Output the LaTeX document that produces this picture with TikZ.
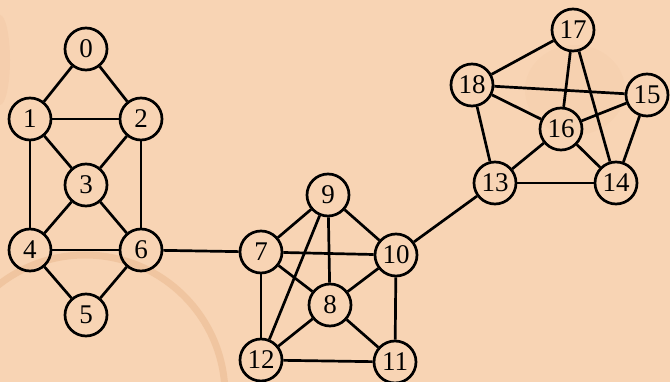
\documentclass[tikz,border=0pt]{standalone}
\usepackage{fontspec}
\setmainfont{Liberation Serif}
\begin{document}
\begin{tikzpicture}[x=1pt,y=-1pt,
  vtx/.style={circle,draw=black,line width=2.7pt,minimum size=42pt,inner sep=0pt,font=\fontsize{27}{27}\selectfont},
  edge/.style={draw=black,line width=2.7pt}]
\definecolor{paper}{HTML}{F8D4B4}
\definecolor{stain}{HTML}{E9B88E}
\fill[paper] (0,0) rectangle (670,382);
\useasboundingbox (0,0) rectangle (670,382);
\begin{scope}
\clip (0,0) rectangle (670,382);
\draw[stain,line width=7pt,opacity=0.5] (85,395) circle (140);
\fill[stain,opacity=0.18] (0,60) ellipse (10 and 45);
\fill[stain,opacity=0.10] (575,90) ellipse (50 and 45);
\end{scope}
\node[vtx] (n0) at (86,49) {0};
\node[vtx] (n1) at (30,119) {1};
\node[vtx] (n2) at (141,119) {2};
\node[vtx] (n3) at (86,185) {3};
\node[vtx] (n4) at (30,250) {4};
\node[vtx] (n5) at (86,315) {5};
\node[vtx] (n6) at (141,250) {6};
\node[vtx] (n7) at (261,252) {7};
\node[vtx] (n8) at (330,305) {8};
\node[vtx] (n9) at (328,195) {9};
\node[vtx] (n10) at (396,255) {10};
\node[vtx] (n11) at (395,362) {11};
\node[vtx] (n12) at (261,360) {12};
\node[vtx] (n13) at (495,183) {13};
\node[vtx] (n14) at (616,183) {14};
\node[vtx] (n15) at (647,95) {15};
\node[vtx] (n16) at (561,129) {16};
\node[vtx] (n17) at (573,30) {17};
\node[vtx] (n18) at (472,85) {18};
\foreach \a/\b in {0/1,0/2,1/2,1/3,2/3,1/4,2/6,3/4,3/6,4/6,4/5,5/6,6/7,
  9/7,9/10,9/8,9/12,7/10,7/8,7/12,10/8,10/11,8/12,8/11,12/11,10/13,
  17/18,17/16,17/14,18/15,18/16,18/13,16/15,16/13,16/14,15/14,13/14}
  \draw[edge] (n\a) -- (n\b);
\end{tikzpicture}
\end{document}
